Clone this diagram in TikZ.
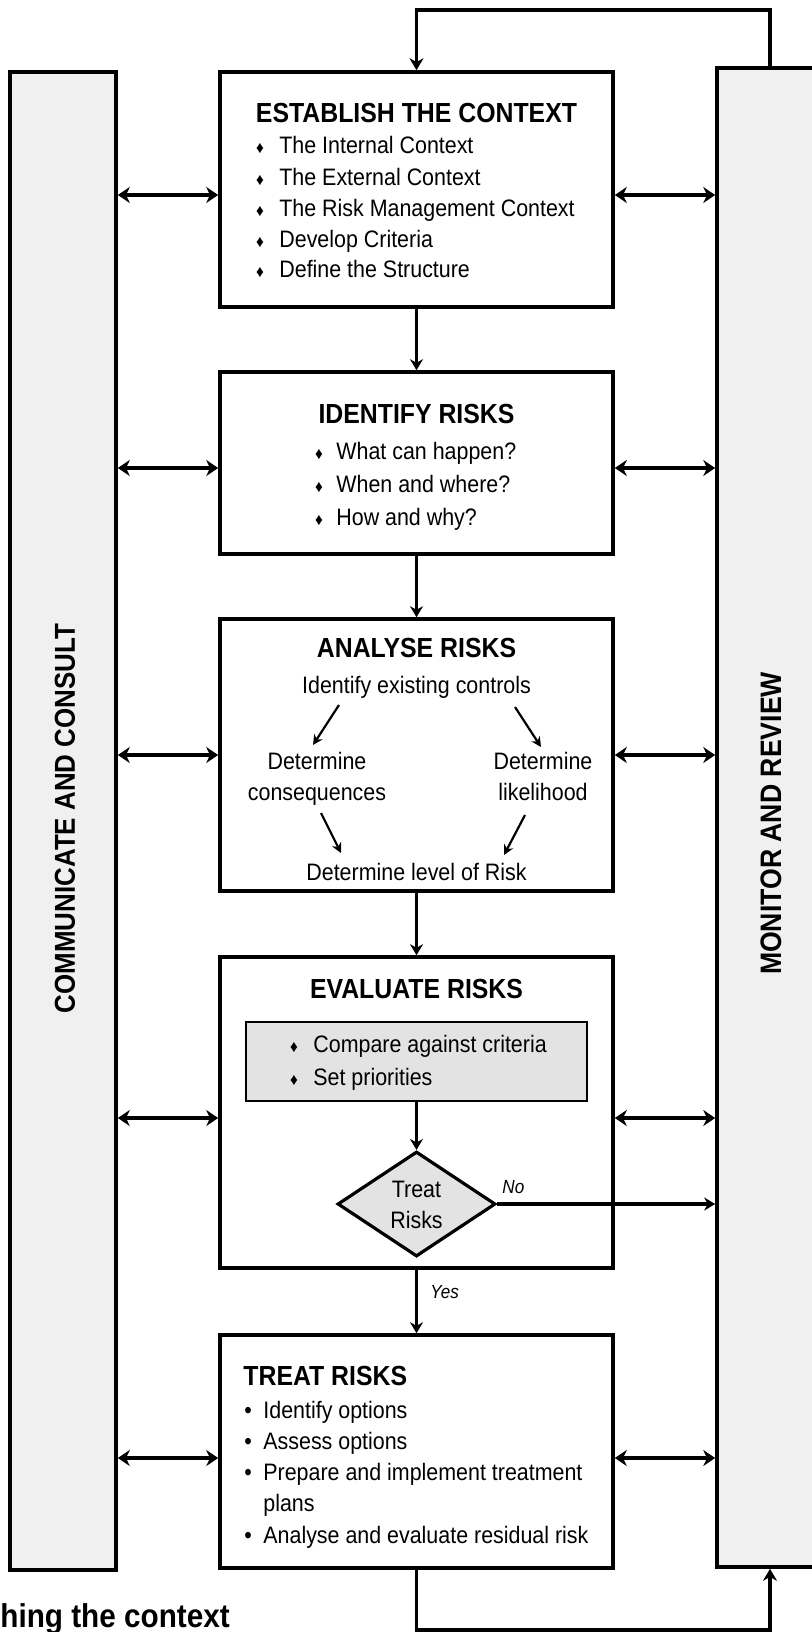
\documentclass[tikz,border=0pt]{standalone}
\usepackage{fontspec}
\setmainfont{Liberation Sans}[FakeStretch=0.9]
\usetikzlibrary{arrows.meta,shapes.geometric}
\begin{document}
\begin{tikzpicture}[x=0.5pt,y=-0.5pt,
  box/.style={draw, line width=1.8pt, fill=white, inner sep=0pt},
  bar/.style={draw, line width=1.8pt, fill=gray!12, inner sep=0pt},
  txt/.style={inner sep=0pt, anchor=base west, font=\fontsize{11.9pt}{14pt}\selectfont},
  ctxt/.style={txt, anchor=base},
  ttl/.style={inner sep=0pt, anchor=base, font=\bfseries\fontsize{13.8pt}{16pt}\selectfont},
  bul/.style={inner sep=0pt, anchor=base, font=\fontsize{8.5pt}{8.5pt}\selectfont},
  dotb/.style={inner sep=0pt, anchor=base, font=\fontsize{11.9pt}{14pt}\selectfont},
  flow/.style={line width=1.6pt, -{Stealth[length=5.5pt,width=6.5pt]}},
  thinarr/.style={line width=1.1pt, -{Stealth[length=5pt,width=5pt]}},
  dbl/.style={line width=2pt, {Stealth[length=6pt,width=8pt]}-{Stealth[length=6pt,width=8pt]}},
  fbk/.style={line width=1.9pt, -{Stealth[length=6pt,width=7pt]}},
  lab/.style={inner sep=0pt, anchor=base west, font=\itshape\fontsize{9.5pt}{11pt}\selectfont},
  side/.style={inner sep=0pt, rotate=90, font=\bfseries\fontsize{14.4pt}{16pt}\selectfont}
]
\useasboundingbox (0,0) rectangle (811,1632);

% side bars
\node[bar, minimum width=53pt, minimum height=749pt] (lbar) at (63,821) {};
\node[bar, minimum width=56.5pt, minimum height=749.5pt] (rbar) at (773.5,817.5) {};
\node[side] (ltxt) at (65,818.5) {COMMUNICATE AND CONSULT};
\node[side, font=\bfseries\fontsize{14.8pt}{16pt}\selectfont] (rtxt) at (771,823.5) {MONITOR AND REVIEW};

% main boxes
\node[box, minimum width=196.5pt, minimum height=117.5pt] (est) at (416.5,189.5) {};
\node[box, minimum width=196.5pt, minimum height=91pt] (idf) at (416.5,463) {};
\node[box, minimum width=196.5pt, minimum height=136pt] (ana) at (416.5,755) {};
\node[box, minimum width=196.5pt, minimum height=155.5pt] (eva) at (416.5,1112.5) {};
\node[box, minimum width=196.5pt, minimum height=116.5pt] (trt) at (416.5,1451.5) {};

% establish
\node[ttl] (estT) at (416.5,122) {ESTABLISH THE CONTEXT};
\node[bul] (eb1) at (260,154) {♦};
\node[bul] (eb2) at (260,185) {♦};
\node[bul] (eb3) at (260,216) {♦};
\node[bul] (eb4) at (260,247) {♦};
\node[bul] (eb5) at (260,277) {♦};
\node[txt] (e1) at (279,154) {The Internal Context};
\node[txt] (e2) at (279,185) {The External Context};
\node[txt] (e3) at (279,216) {The Risk Management Context};
\node[txt] (e4) at (279,247) {Develop Criteria};
\node[txt] (e5) at (279,277) {Define the Structure};

% identify
\node[ttl] (idfT) at (416.5,423) {IDENTIFY RISKS};
\node[bul] (ib1) at (319,459) {♦};
\node[bul] (ib2) at (319,492) {♦};
\node[bul] (ib3) at (319,525) {♦};
\node[txt] (i1) at (336,459) {What can happen?};
\node[txt] (i2) at (336,492) {When and where?};
\node[txt] (i3) at (336,525) {How and why?};

% analyse
\node[ttl] (anaT) at (416.5,657) {ANALYSE RISKS};
\node[ctxt] (a0) at (416.5,693) {Identify existing controls};
\node[ctxt] (aL1) at (317,769) {Determine};
\node[ctxt] (aL2) at (317,800) {consequences};
\node[ctxt] (aR1) at (543,769) {Determine};
\node[ctxt] (aR2) at (543,800) {likelihood};
\node[ctxt] (aB) at (416.5,880) {Determine level of Risk};
\coordinate (a1s) at (339,705); \coordinate (a1e) at (313,745);
\coordinate (a2s) at (515,707); \coordinate (a2e) at (541,747);
\coordinate (a3s) at (321,813); \coordinate (a3e) at (341,853);
\coordinate (a4s) at (525,815); \coordinate (a4e) at (504,855);
\draw[thinarr] (a1s) -- (a1e);
\draw[thinarr] (a2s) -- (a2e);
\draw[thinarr] (a3s) -- (a3e);
\draw[thinarr] (a4s) -- (a4e);

% evaluate
\node[ttl] (evaT) at (416.5,998) {EVALUATE RISKS};
\node[draw, line width=1.4pt, fill=gray!22, inner sep=0pt, minimum width=170.5pt, minimum height=39.5pt] (inner) at (416.5,1061.5) {};
\node[bul] (vb1) at (294,1052) {♦};
\node[bul] (vb2) at (294,1085) {♦};
\node[txt] (v1) at (313,1052) {Compare against criteria};
\node[txt] (v2) at (313,1085) {Set priorities};
\node[draw, diamond, line width=1.6pt, fill=gray!22, inner sep=0pt, minimum width=79pt, minimum height=52.5pt] (dec) at (416.5,1204) {};
\node[ctxt] (d1) at (416.5,1197) {Treat};
\node[ctxt] (d2) at (416.5,1228) {Risks};
\node[lab] (no) at (502,1193) {No};
\draw[flow] (inner.south) -- (dec.north);
\draw[flow] (dec.east) -- (rbar.west |- dec.east);

% treat
\node[ttl, anchor=base west] (trtT) at (243,1385) {TREAT RISKS};
\node[dotb] (tb1) at (248,1418) {•};
\node[dotb] (tb2) at (248,1449) {•};
\node[dotb] (tb3) at (248,1480) {•};
\node[dotb] (tb4) at (248,1543) {•};
\node[txt] (t1) at (263,1418) {Identify options};
\node[txt] (t2) at (263,1449) {Assess options};
\node[txt] (t3) at (263,1480) {Prepare and implement treatment};
\node[txt] (t3b) at (263,1511) {plans};
\node[txt] (t4) at (263,1543) {Analyse and evaluate residual risk};

% flow between boxes
\draw[flow] (est.south) -- (idf.north);
\draw[flow] (idf.south) -- (ana.north);
\draw[flow] (ana.south) -- (eva.north);
\draw[flow] (eva.south) -- (trt.north);
\node[lab] (yes) at (430,1298) {Yes};

% double arrows
\coordinate (h1) at (0,195);
\coordinate (h2) at (0,468);
\coordinate (h3) at (0,755);
\coordinate (h4) at (0,1118);
\coordinate (h5) at (0,1458);
\foreach \h/\b in {h1/est,h2/idf,h3/ana,h4/eva,h5/trt}{
  \draw[dbl] (lbar.east |- \h) -- (\b.west |- \h);
  \draw[dbl] (\b.east |- \h) -- (rbar.west |- \h);
}

% feedback loops
\coordinate (tR) at (770,10);
\coordinate (tL) at (416.5,10);
\draw[fbk] (rbar.north -| tR) |- (tL) -- (est.north);
\coordinate (bL) at (416.5,1630);
\coordinate (bR) at (770,1630);
\draw[fbk] (trt.south) -- (bL) -| (rbar.south -| bR);

% caption fragment
\node[inner sep=0pt, anchor=base west, font=\bfseries\fontsize{16.5pt}{18pt}\selectfont] (cap) at (0,1627) {hing the context};
\end{tikzpicture}
\end{document}
